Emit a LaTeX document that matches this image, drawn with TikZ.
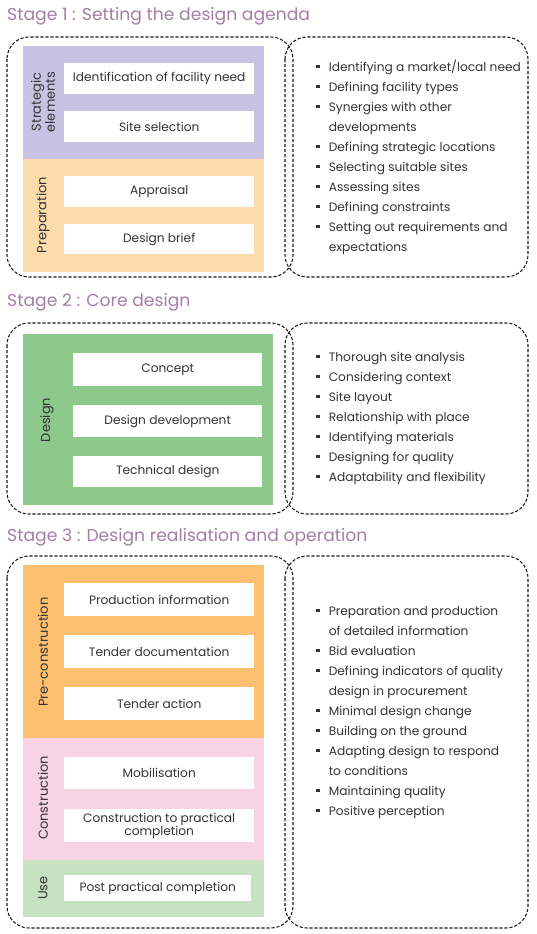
\documentclass[tikz,border=0pt]{standalone}
\usepackage{fontspec}
\setmainfont{Poppins}
\usetikzlibrary{positioning}

\definecolor{titlemauve}{HTML}{A27FA5}
\definecolor{textgrey}{HTML}{333333}
\definecolor{stratpurple}{HTML}{C8C3E3}
\definecolor{preporange}{HTML}{FDDCAC}
\definecolor{designgreen}{HTML}{8DC98A}
\definecolor{preconorange}{HTML}{FDBF70}
\definecolor{conpink}{HTML}{F8D3E4}
\definecolor{usegreen}{HTML}{C6E2C1}

\newcommand{\sqbul}{\rule[3pt]{3.6pt}{3.6pt}}

\begin{document}
\begin{tikzpicture}[
  x=1pt, y=-1pt,
  font=\fontsize{12.2}{20}\selectfont,
  stagebox/.style={draw=black!90, dash pattern=on 3.2pt off 1.8pt, line width=1.05pt, rounded corners=22pt},
  panel/.style={anchor=north west, inner sep=0pt, minimum width=241pt},
  task/.style={fill=white, anchor=north west, inner sep=0pt, text=textgrey, align=center, minimum width=190pt},
  phase/.style={rotate=90, text=textgrey, align=center, font=\fontsize{13}{14}\selectfont},
  title/.style={anchor=west, inner sep=0pt, text=titlemauve, font=\fontsize{17.2}{19}\selectfont},
  list/.style={anchor=north west, inner sep=0pt, text=textgrey}
]
  \useasboundingbox (0,0) rectangle (536,934);

  % Stage 1
  \node[title] (t1) at (7,16) {Stage 1 : Setting the design agenda};
  \node[panel, fill=stratpurple, minimum height=113pt] (strat) at (23,46) {};
  \node[panel, fill=preporange, minimum height=113pt] (prep) at (23,159) {};
  \node[task, minimum height=31pt] (need) at (64,63) {Identification of facility need};
  \node[task, minimum height=31pt] (site) at (64,111) {Site selection};
  \node[task, minimum height=31pt] (appr) at (64,176) {Appraisal};
  \node[task, minimum height=30pt] (brief) at (64,224) {Design brief};
  \node[phase] (lstrat) at (43,102) {Strategic\\elements};
  \node[phase] (lprep) at (43,215) {Preparation};
  \draw[stagebox] (7,37) rectangle (293,277);
  \draw[stagebox] (285,37) rectangle (528,277);
  \node[list] (l1) at (316,57) {\begin{tabular}{@{}l@{\hspace{9pt}}l@{}}
    \sqbul & Identifying a market/local need\\
    \sqbul & Defining facility types\\
    \sqbul & Synergies with other\\
           & developments\\
    \sqbul & Defining strategic locations\\
    \sqbul & Selecting suitable sites\\
    \sqbul & Assessing sites\\
    \sqbul & Defining constraints\\
    \sqbul & Setting out requirements and\\
           & expectations
  \end{tabular}};

  % Stage 2
  \node[title] (t2) at (7,302) {Stage 2 : Core design};
  \node[panel, fill=designgreen, minimum width=250pt, minimum height=171pt] (design) at (23,334) {};
  \node[task, minimum width=189pt, minimum height=33pt] (concept) at (73,353) {Concept};
  \node[task, minimum width=189pt, minimum height=32pt] (devel) at (73,405) {Design development};
  \node[task, minimum width=189pt, minimum height=31pt] (tech) at (73,456) {Technical design};
  \node[phase] (ldesign) at (47,420) {Design};
  \draw[stagebox] (7,323) rectangle (293,514);
  \draw[stagebox] (285,323) rectangle (528,514);
  \node[list] (l2) at (316,347) {\begin{tabular}{@{}l@{\hspace{9pt}}l@{}}
    \sqbul & Thorough site analysis\\
    \sqbul & Considering context\\
    \sqbul & Site layout\\
    \sqbul & Relationship with place\\
    \sqbul & Identifying materials\\
    \sqbul & Designing for quality\\
    \sqbul & Adaptability and flexibility
  \end{tabular}};

  % Stage 3
  \node[title] (t3) at (7,537) {Stage 3 : Design realisation and operation};
  \node[panel, fill=preconorange, minimum height=173pt] (precon) at (23,565) {};
  \node[panel, fill=conpink, minimum height=122pt] (con) at (23,738) {};
  \node[panel, fill=usegreen, minimum height=57pt] (use) at (23,860) {};
  \node[task, minimum height=33pt] (prod) at (64,583) {Production information};
  \node[task, minimum height=33pt] (tdoc) at (64,635) {Tender documentation};
  \node[task, minimum height=33pt] (tact) at (64,687) {Tender action};
  \node[task, minimum height=32pt] (mob) at (64,757) {Mobilisation};
  \node[task, minimum height=33pt, font=\fontsize{12.2}{13}\selectfont] (prac) at (64,809) {Construction to practical\\completion};
  \node[task, minimum width=187pt, minimum height=26pt] (post) at (64,875) {Post practical completion};
  \node[phase] (lprecon) at (43,652) {Pre-construction};
  \node[phase] (lcon) at (43,798) {Construction};
  \node[phase] (luse) at (43,888) {Use};
  \draw[stagebox] (7,556) rectangle (293,928);
  \draw[stagebox] (285,556) rectangle (528,928);
  \node[list] (l3) at (316,601) {\begin{tabular}{@{}l@{\hspace{9pt}}l@{}}
    \sqbul & Preparation and production\\
           & of detailed information\\
    \sqbul & Bid evaluation\\
    \sqbul & Defining indicators of quality\\
           & design in procurement\\
    \sqbul & Minimal design change\\
    \sqbul & Building on the ground\\
    \sqbul & Adapting design to respond\\
           & to conditions\\
    \sqbul & Maintaining quality\\
    \sqbul & Positive perception
  \end{tabular}};
\end{tikzpicture}
\end{document}
